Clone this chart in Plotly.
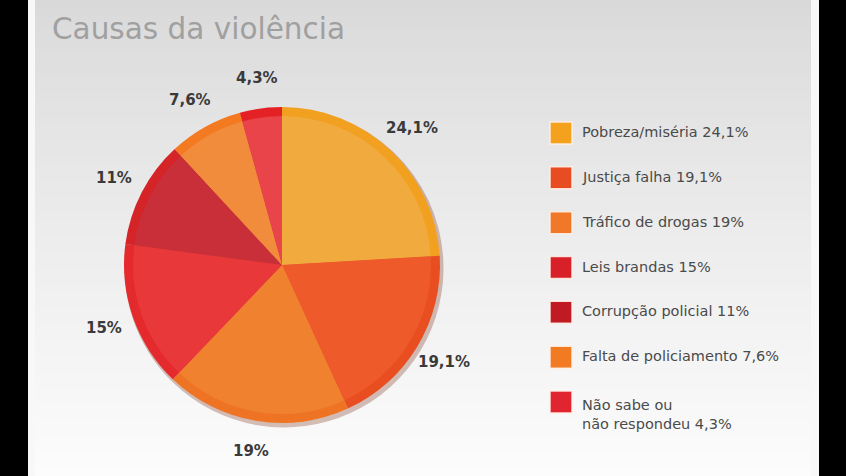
import math
import plotly.graph_objects as go

W, H = 846, 476

# ---------------- data ----------------
categories = ["Pobreza/miséria", "Justiça falha", "Tráfico de drogas", "Leis brandas",
              "Corrupção policial", "Falta de policiamento", "Não sabe ou não respondeu"]
values = [24.1, 19.1, 19, 15, 11, 7.6, 4.3]
pct_labels = ["24,1%", "19,1%", "19%", "15%", "11%", "7,6%", "4,3%"]
legend_labels = ["Pobreza/miséria 24,1%", "Justiça falha 19,1%", "Tráfico de drogas 19%",
                 "Leis brandas 15%", "Corrupção policial 11%", "Falta de policiamento 7,6%",
                 "Não sabe ou<br>não respondeu 4,3%"]

# ---------------- styles ----------------
face_colors = ["#F1AA3E", "#EE5A2A", "#F0812F", "#E8383A", "#C82F38", "#F08C3C", "#E8444A"]
rim_colors = ["#F2A020", "#E84E20", "#EE7424", "#E42A2C", "#D42428", "#F47A22", "#E42226"]
swatch_colors = ["#F4A21E", "#E84C22", "#F07828", "#D82028", "#C01A22", "#F27A22", "#E02430"]

cx, cy, r = 282, 265, 158  # pie centre / radius in pixels
label_r = 189               # distance of label centres from pie centre


def dom(x, y, rad):
    return dict(x=[(x - rad) / W, (x + rad) / W], y=[1 - (y + rad) / H, 1 - (y - rad) / H])


fig = go.Figure()

# background: black frame + light gray gradient
shapes = [dict(type="rect", xref="paper", yref="paper", x0=28 / W, x1=819 / W, y0=0, y1=1,
               fillcolor="#f8f8f8", line=dict(width=0), layer="below")]
n = 60
for i in range(n):
    t = i / (n - 1)
    c0, c1 = 217, 252
    v = int(round(c0 + (c1 - c0) * t ** 0.85))
    shapes.append(dict(type="rect", xref="paper", yref="paper",
                       x0=35 / W, x1=811 / W, y0=1 - (i + 1) / n, y1=1 - i / n + 0.002,
                       fillcolor=f"rgb({v},{v},{min(v + 1, 255)})",
                       line=dict(width=0), layer="below"))

# shadow
fig.add_trace(go.Pie(values=values, labels=categories, sort=False, direction="clockwise",
                     domain=dom(cx + 2, cy + 3, r + 1.5), textinfo="none", hoverinfo="skip",
                     marker=dict(colors=["rgba(120,45,20,0.30)"] * len(values), line=dict(width=0)),
                     showlegend=False))
# rim
fig.add_trace(go.Pie(values=values, labels=categories, sort=False, direction="clockwise",
                     domain=dom(cx, cy, r), textinfo="none",
                     marker=dict(colors=rim_colors, line=dict(width=0)), showlegend=False))
# face
fig.add_trace(go.Pie(values=values, labels=categories, sort=False, direction="clockwise",
                     domain=dom(cx, cy, r - 9), textinfo="none",
                     marker=dict(colors=face_colors, line=dict(width=0)), showlegend=False))

annotations = []
# slice labels at mid-angle of each slice
total = sum(values)
cum = 0.0
for v, lab in zip(values, pct_labels):
    mid = (cum + v / 2) / total * 2 * math.pi
    cum += v
    px = cx + label_r * math.sin(mid)
    py = cy - label_r * math.cos(mid)
    annotations.append(dict(x=px / W, y=1 - py / H, xref="paper", yref="paper", text=lab,
                            showarrow=False, xanchor="center", yanchor="middle",
                            font=dict(family="DejaVu Sans", size=15, color="#3a3a3a", weight="bold")))

# legend swatches
idx = list(range(len(categories)))
fig.add_trace(go.Scatter(x=[0] * len(idx), y=idx, mode="markers", xaxis="x2", yaxis="y2",
                         marker=dict(symbol="square", size=22, color=swatch_colors,
                                     line=dict(width=1.5, color="rgba(255,240,230,0.9)")),
                         cliponaxis=False, showlegend=False, hoverinfo="skip"))

for i, lab in enumerate(legend_labels):
    multi = "<br>" in lab
    annotations.append(dict(x=0, y=i, xref="x2", yref="y2", text=lab, showarrow=False,
                            xanchor="left", yanchor="top" if multi else "middle",
                            xshift=19, yshift=7 if multi else 1, align="left",
                            font=dict(family="DejaVu Sans", size=14.5, color="#4a4a4a")))

fig.update_layout(
    width=W, height=H, margin=dict(l=0, r=0, t=0, b=0),
    paper_bgcolor="#000000", plot_bgcolor="rgba(0,0,0,0)",
    shapes=shapes, annotations=annotations,
    title=dict(text="Causas da violência", x=52 / W, xanchor="left", xref="paper",
               y=1 - 29 / H, yanchor="middle", yref="paper",
               font=dict(family="DejaVu Sans", size=29.5, color="#a0a0a0")),
    xaxis2=dict(domain=[561 / W, 800 / W], range=[0, 1], anchor="y2", visible=False),
    yaxis2=dict(domain=[1 - 424.4 / H, 1 - 110.6 / H], range=[6.5, -0.5], anchor="x2", visible=False),
)

fig.write_html("out.html")
